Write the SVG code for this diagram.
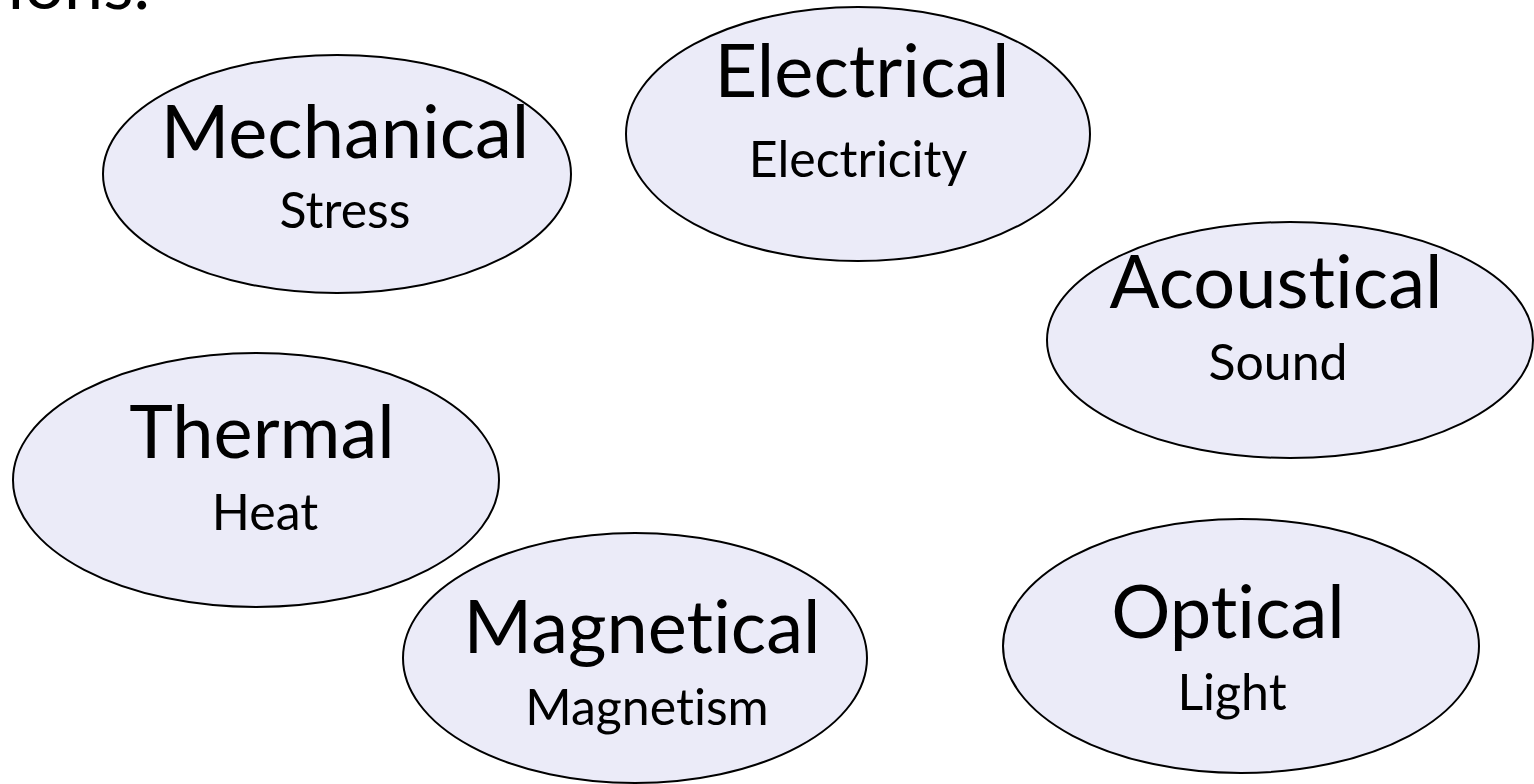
<svg xmlns="http://www.w3.org/2000/svg" width="1534" height="784" viewBox="0 0 1534 784">
<style>
.node ellipse{fill:#EBEBF8;stroke:#000;stroke-width:2}
text{font-family:Lato,"Noto Sans",sans-serif;fill:#000;text-anchor:middle;font-variant-ligatures:none;font-feature-settings:"liga" 0}
.t{font-size:74px}
.s{font-size:50px}
</style>
<rect width="1534" height="784" fill="#fff"/>
<text x="150" y="9" style="font-size:70px;text-anchor:end">ions.</text>
<g id="connectors"></g>
<g id="mechanical" class="node">
<ellipse cx="337" cy="174" rx="234" ry="119"/>
<text class="t" x="345" y="158">Mechanical</text>
<text class="s" x="345" y="228">Stress</text>
</g>
<g id="electrical" class="node">
<ellipse cx="858" cy="134" rx="232" ry="127"/>
<text class="t" x="862" y="97">Electrical</text>
<text class="s" x="858" y="177">Electricity</text>
</g>
<g id="acoustical" class="node">
<ellipse cx="1290" cy="340" rx="243" ry="118"/>
<text class="t" x="1276" y="308">Acoustical</text>
<text class="s" x="1278" y="380">Sound</text>
</g>
<g id="thermal" class="node">
<ellipse cx="256" cy="480" rx="243" ry="127"/>
<text class="t" x="262" y="458">Thermal</text>
<text class="s" x="265" y="530">Heat</text>
</g>
<g id="magnetical" class="node">
<ellipse cx="635" cy="658" rx="232" ry="125"/>
<text class="t" x="642" y="653">Magnetical</text>
<text class="s" x="647" y="725">Magnetism</text>
</g>
<g id="optical" class="node">
<ellipse cx="1241" cy="646" rx="238" ry="127"/>
<text class="t" x="1228" y="638">Optical</text>
<text class="s" x="1232" y="710">Light</text>
</g>
</svg>
